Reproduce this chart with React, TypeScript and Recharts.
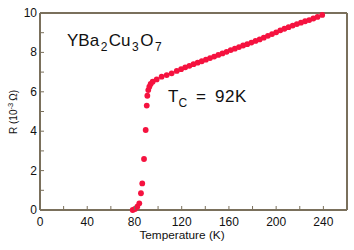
import { ScatterChart, Scatter, XAxis, YAxis } from 'recharts';

// Resistance of YBa2Cu3O7 vs temperature
const temperatures = [
  78.5, 80.4, 82.4, 84.1, 85.5, 86.6, 88.1, 89.5, 90.4, 90.9, 91.7, 92.6, 93.7, 95.4,
  98.8, 103, 107.3, 111.5, 115.8, 119.5, 123, 126.5, 130, 133.5, 137, 140.5, 144, 147.5,
  151, 154.5, 158, 161.5, 165, 168.5, 172, 175.5, 179, 182.5, 186, 189.5, 193, 196.5,
  200, 203.5, 207, 210.5, 214, 217.5, 221, 224.5, 228, 231.5, 235, 239,
];
const resistances = [
  0, 0.05, 0.17, 0.34, 0.85, 1.35, 2.59, 4.06, 5.3, 5.8, 6.09, 6.26, 6.4, 6.51,
  6.63, 6.77, 6.85, 6.94, 7.06, 7.15, 7.24, 7.32, 7.4, 7.48, 7.55, 7.63, 7.71, 7.79,
  7.87, 7.95, 8.03, 8.12, 8.19, 8.27, 8.35, 8.42, 8.5, 8.58, 8.66, 8.75, 8.84, 8.93,
  9.02, 9.12, 9.2, 9.28, 9.36, 9.44, 9.51, 9.58, 9.64, 9.72, 9.8, 9.9,
];
const xTicks = [0, 20, 40, 60, 80, 100, 120, 140, 160, 180, 200, 220, 240, 260];
const yTicks = [0, 1, 2, 3, 4, 5, 6, 7, 8, 9, 10];

const data = temperatures.map((t, i) => ({ t, r: resistances[i] }));

const FRAME = '#7a705c';
const DOT = '#f5123f';
const FONT = '"Liberation Sans", Arial, sans-serif';

// ticks point into the plot; only the bottom and left axes carry labels
function BottomTick({ x, y, payload }: any) {
  const v = payload.value;
  return (
    <g>
      <line x1={x} x2={x} y1={y} y2={y - 4} stroke={FRAME} strokeWidth={1} />
      {v % 40 === 0 && v <= 240 && (
        <text x={x} y={y + 16} textAnchor="middle" fontSize={12} fill="#111" fontFamily={FONT}>
          {v}
        </text>
      )}
    </g>
  );
}

function TopTick({ x, y }: any) {
  return <line x1={x} x2={x} y1={y} y2={y + 4} stroke={FRAME} strokeWidth={1} />;
}

function LeftTick({ x, y, payload }: any) {
  const v = payload.value;
  return (
    <g>
      <line x1={x} x2={x + 4} y1={y} y2={y} stroke={FRAME} strokeWidth={1} />
      {v % 2 === 0 && (
        <text x={x - 3} y={y + 4} textAnchor="end" fontSize={12} fill="#111" fontFamily={FONT}>
          {v}
        </text>
      )}
    </g>
  );
}

function RightTick({ x, y }: any) {
  return <line x1={x} x2={x - 4} y1={y} y2={y} stroke={FRAME} strokeWidth={1} />;
}

const Dot = ({ cx, cy }: any) => <circle cx={cx} cy={cy} r={2.9} fill={DOT} />;

const axisLine = { stroke: FRAME, strokeWidth: 2 };

export default function App() {
  return (
    <div style={{ position: 'absolute', left: 0, top: 0, width: 354, height: 250, background: '#fff' }}>
      <ScatterChart width={354} height={250} margin={{ top: 12, right: 6, bottom: 39, left: 39 }}>
        <XAxis
          xAxisId="b"
          type="number"
          dataKey="t"
          domain={[0, 260]}
          ticks={xTicks}
          height={1}
          tickSize={0}
          tickMargin={0}
          tick={<BottomTick />}
          axisLine={axisLine}
          tickLine={false}
          interval={0}
        />
        <XAxis
          xAxisId="t"
          orientation="top"
          type="number"
          dataKey="t"
          domain={[0, 260]}
          ticks={xTicks}
          height={1}
          tickSize={0}
          tickMargin={0}
          tick={<TopTick />}
          axisLine={axisLine}
          tickLine={false}
          interval={0}
        />
        <YAxis
          yAxisId="l"
          type="number"
          dataKey="r"
          domain={[0, 10]}
          ticks={yTicks}
          width={1}
          tickSize={0}
          tickMargin={0}
          tick={<LeftTick />}
          axisLine={axisLine}
          tickLine={false}
          interval={0}
        />
        <YAxis
          yAxisId="r"
          orientation="right"
          type="number"
          dataKey="r"
          domain={[0, 10]}
          ticks={yTicks}
          width={1}
          tickSize={0}
          tickMargin={0}
          tick={<RightTick />}
          axisLine={axisLine}
          tickLine={false}
          interval={0}
        />
        <Scatter data={data} xAxisId="b" yAxisId="l" shape={<Dot />} isAnimationActive={false} />
        <text x={67} y={46} fontSize={17} fill="#111" fontFamily={FONT}>
          YBa
          <tspan fontSize={12} dy={5} dx={1.5}>2</tspan>
          <tspan dy={-5} dx={1.5}>Cu</tspan>
          <tspan fontSize={12} dy={5} dx={1.5}>3</tspan>
          <tspan dy={-5} dx={1.5}>O</tspan>
          <tspan fontSize={12} dy={5} dx={1.5}>7</tspan>
        </text>
        <text x={168} y={102} fontSize={17} fill="#111" fontFamily={FONT}>
          T
          <tspan fontSize={12} dy={5}>C</tspan>
          <tspan dy={-5} dx={9}>=</tspan>
          <tspan dx={9} letterSpacing={0.5}>92K</tspan>
        </text>
        <text x={182} y={239} textAnchor="middle" fontSize={11.8} fill="#111" fontFamily={FONT}>
          Temperature (K)
        </text>
        <text
          x={0}
          y={0}
          transform="translate(17 112) rotate(-90)"
          textAnchor="middle"
          fontSize={10}
          fill="#111"
          fontFamily={FONT}
        >
          R (10
          <tspan fontSize={7.5} dy={-4}>-3</tspan>
          <tspan dy={4} dx={2}>Ω)</tspan>
        </text>
      </ScatterChart>
    </div>
  );
}
